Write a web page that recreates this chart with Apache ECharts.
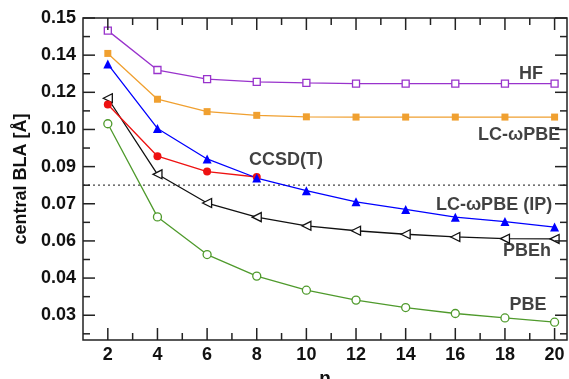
<!DOCTYPE html>
<html>
<head>
<meta charset="utf-8">
<script src="https://cdn.jsdelivr.net/npm/echarts@6/dist/echarts.min.js"></script>
<style>
html,body{margin:0;padding:0;background:#fff;}
#chart{width:569px;height:379px;}
</style>
</head>
<body>
<div id="chart"></div>
<script>
// ---- data ----
var nValues = [2, 4, 6, 8, 10, 12, 14, 16, 18, 20];
var hfValues = [0.1449, 0.1290, 0.1253, 0.1242, 0.1238, 0.1235, 0.1235, 0.1235, 0.1235, 0.1235];
var lcwpbeValues = [0.1357, 0.1172, 0.1122, 0.1107, 0.1101, 0.1100, 0.1100, 0.1100, 0.1100, 0.1100];
var lcwpbeIPValues = [0.1314, 0.1054, 0.0931, 0.0854, 0.0803, 0.0758, 0.0727, 0.0696, 0.0678, 0.0656];
var ccsdtN = [2, 4, 6, 8];
var ccsdtValues = [0.1151, 0.0942, 0.0880, 0.0858];
var pbehValues = [0.1176, 0.0869, 0.0753, 0.0696, 0.0661, 0.0641, 0.0627, 0.0616, 0.0609, 0.0608];
var pbeValues = [0.1073, 0.0697, 0.0545, 0.0458, 0.0401, 0.0361, 0.0331, 0.0307, 0.0289, 0.0272];
var referenceLine = 0.0825;

var yTickValues = [0.03, 0.045, 0.06, 0.075, 0.09, 0.105, 0.12, 0.135, 0.15];
var yTickLabels = ['0.03', '0.04', '0.06', '0.07', '0.09', '0.10', '0.12', '0.14', '0.15'];
var yMinorTicks = [0.0225, 0.0375, 0.0525, 0.0675, 0.0825, 0.0975, 0.1125, 0.1275, 0.1425];
var xTickValues = [2, 4, 6, 8, 10, 12, 14, 16, 18, 20];
var xMinorTicks = [3, 5, 7, 9, 11, 13, 15, 17, 19];

var annotationTexts = ['HF', 'LC-ωPBE', 'CCSD(T)', 'LC-ωPBE (IP)', 'PBEh', 'PBE'];
var annotationN = [19.05, 18.57, 9.18, 17.56, 18.89, 18.93];
var annotationY = [0.1274, 0.1028, 0.0927, 0.0745, 0.0559, 0.0341];

// ---- styles / layout ----
var FONT = '"Liberation Sans", Arial, Helvetica, sans-serif';
var yMin = 0.02, yMax = 0.15, xMin = 1, xMax = 20.5;
var MAJOR = 12, MINOR = 7, TW = 1.5;

function pairs(xs, ys) { return xs.map(function (x, i) { return [x, ys[i]]; }); }

// inward tick marks on all four sides, placed through the axis scales
function tickSeries(points, size, offset) {
  return {
    type: 'scatter', silent: true, clip: false, z: 3,
    symbol: 'rect', symbolSize: size, symbolOffset: offset,
    itemStyle: {color: '#222', opacity: 1},
    data: points
  };
}
function atX(x, vals) { return vals.map(function (v) { return [x, v]; }); }
function atY(y, vals) { return vals.map(function (v) { return [v, y]; }); }

var ticks = [
  tickSeries(atX(xMin, yTickValues), [MAJOR, TW], [MAJOR / 2, 0]),
  tickSeries(atX(xMin, yMinorTicks), [MINOR, TW], [MINOR / 2, 0]),
  tickSeries(atX(xMax, yTickValues), [MAJOR, TW], [-MAJOR / 2, 0]),
  tickSeries(atX(xMax, yMinorTicks), [MINOR, TW], [-MINOR / 2, 0]),
  tickSeries(atY(yMin, xTickValues), [TW, MAJOR], [0, -MAJOR / 2]),
  tickSeries(atY(yMin, xMinorTicks), [TW, MINOR], [0, -MINOR / 2]),
  tickSeries(atY(yMax, xTickValues), [TW, MAJOR], [0, MAJOR / 2]),
  tickSeries(atY(yMax, xMinorTicks), [TW, MINOR], [0, MINOR / 2])
];

function ser(name, xs, ys, color, symbol, size, open, rotate) {
  return {
    name: name, type: 'line',
    data: pairs(xs, ys),
    symbol: symbol, symbolSize: size, symbolRotate: rotate || 0,
    lineStyle: {color: color, width: 1.3},
    itemStyle: open ? {color: '#fff', borderColor: color, borderWidth: 1.3} : {color: color, borderColor: color, borderWidth: 0}
  };
}

var refSeries = {
  name: 'ref', type: 'line', silent: true, symbol: 'none', z: 1,
  data: [[xMin, referenceLine], [xMax, referenceLine]],
  lineStyle: {type: [2, 3], color: '#444', width: 1.2}
};

var annotationSeries = {
  name: 'labels', type: 'scatter', silent: true, symbolSize: 1, z: 20,
  itemStyle: {color: 'rgba(0,0,0,0)'},
  data: annotationTexts.map(function (t, i) { return {name: t, value: [annotationN[i], annotationY[i]]}; }),
  label: {show: true, position: 'inside', formatter: '{b}', color: '#111',
    fontFamily: FONT, fontWeight: 'bold', fontSize: 18}
};

var series = [
  refSeries,
  ser('PBE', nValues, pbeValues, '#4f9a2c', 'circle', 8, true),
  ser('PBEh', nValues, pbehValues, '#111111', 'triangle', 9, true, 90),
  ser('CCSD(T)', ccsdtN, ccsdtValues, '#ee1111', 'circle', 8, false),
  ser('LC-ωPBE (IP)', nValues, lcwpbeIPValues, '#0000ff', 'triangle', 9, false),
  ser('LC-ωPBE', nValues, lcwpbeValues, '#f0a030', 'rect', 7, false),
  ser('HF', nValues, hfValues, '#9933cc', 'rect', 7, true),
  annotationSeries
].concat(ticks);

var chart = echarts.init(document.getElementById('chart'));
chart.setOption({
  animation: false,
  grid: {left: 83, right: 2, top: 18, bottom: 39, outerBoundsMode: 'none',
    show: true, borderColor: '#222', borderWidth: 1.5},
  xAxis: {
    type: 'value', min: xMin, max: xMax,
    axisLine: {show: false}, axisTick: {show: false}, splitLine: {show: false},
    axisLabel: {customValues: xTickValues, margin: 6, color: '#111',
      fontFamily: FONT, fontWeight: 'bold', fontSize: 18},
    name: 'n', nameLocation: 'middle', nameGap: 22,
    nameTextStyle: {fontFamily: FONT, fontWeight: 'bold', fontSize: 19, color: '#111'}
  },
  yAxis: {
    type: 'value', min: yMin, max: yMax,
    axisLine: {show: false}, axisTick: {show: false}, splitLine: {show: false},
    axisLabel: {customValues: yTickValues, margin: 7, color: '#111',
      fontFamily: FONT, fontWeight: 'bold', fontSize: 18,
      formatter: function (v) {
        for (var i = 0; i < yTickValues.length; i++) {
          if (Math.abs(yTickValues[i] - v) < 1e-9) return yTickLabels[i];
        }
        return '';
      }},
    name: 'central BLA [Å]', nameLocation: 'middle', nameGap: 46,
    nameTextStyle: {fontFamily: FONT, fontWeight: 'bold', fontSize: 18, color: '#111'}
  },
  series: series
});
</script>
</body>
</html>
